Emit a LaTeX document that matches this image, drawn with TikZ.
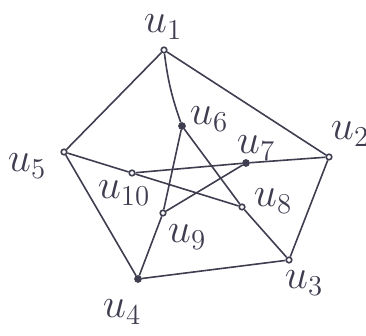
\documentclass[tikz,border=0pt]{standalone}
\usepackage{tikz}
\usetikzlibrary{calc,positioning}
\definecolor{ink}{RGB}{62,62,80}

\begin{document}
\begin{tikzpicture}[x=0.5pt, y=-0.5pt,
    vtx/.style={circle, draw=ink, fill=white, line width=0.8pt, inner sep=0pt, minimum size=2.8pt},
    vtxf/.style={circle, draw=ink, fill=ink, line width=0.8pt, inner sep=0pt, minimum size=3pt},
    lbl/.style={text=ink, font=\fontsize{20}{24}\selectfont},
    edge/.style={draw=ink, line width=0.8pt}]
    \useasboundingbox (0,0) rectangle (366,336);

    % Vertices
    \foreach \n/\x/\y/\s in {%
        1/164/50/vtx, 2/329/157/vtx, 3/289/260/vtx, 4/138/279/vtxf, 5/64/152/vtx,%
        6/182/126/vtxf, 7/246/163/vtxf, 8/242/207/vtx, 9/163/213/vtx, 10/132/173/vtx%
    } {
        \node[\s] (u\n) at (\x,\y) {};
    }

    % Labels
    \foreach \n/\x/\y in {%
        1/163/27, 2/350/134, 3/304/283, 4/122/312, 5/27/166,%
        6/209/119, 7/256/148, 8/273/201, 9/187/237, 10/124/193%
    } {
        \node[lbl] (l\n) at (\x,\y) {$u_{\n}$};
    }

    % Outer pentagon and spokes
    \foreach \a/\b in {1/2, 2/3, 3/4, 4/5, 5/1, 2/7, 3/8, 4/9, 5/10}
        \draw[edge] (u\a) -- (u\b);
    \draw[edge] (u1) to[bend right=6] (u6);

    % Inner star
    \foreach \a/\b in {6/8, 8/10, 10/7, 7/9, 9/6}
        \draw[edge] (u\a) -- (u\b);
\end{tikzpicture}
\end{document}
